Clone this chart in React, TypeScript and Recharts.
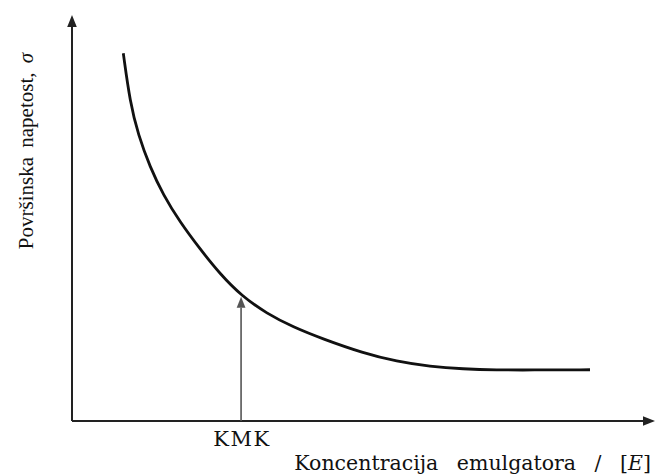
import React from 'react';
import { LineChart, Line, XAxis, YAxis, ReferenceLine } from 'recharts';

const concentration = [8.8, 9.95, 11.37, 13.38, 15.66, 18.52, 21.96, 25.39, 29.11, 33.4, 37.91, 43.05, 49.91, 55.7, 61.41, 67.07, 72.85, 78.56, 88.85];
const tension = [90.57, 78.57, 70.44, 62.56, 55.67, 49.01, 42.36, 36.21, 30.79, 26.48, 23.15, 20.2, 16.75, 14.66, 13.42, 12.81, 12.56, 12.56, 12.62];
const kmkX = 29.0;
const kmkY = 30.6;
const xLabel = 'Koncentracija emulgatora / ';
const yLabel = 'Površinska napetost, ';
const kmkLabel = 'KMK';

const data = concentration.map((c, i) => ({ c, s: tension[i] }));

const Arrow = (color: string, width: number, head: number) => (props: any) => {
  const { x1, y1, x2, y2 } = props;
  const dx = x2 - x1;
  const dy = y2 - y1;
  const len = Math.sqrt(dx * dx + dy * dy) || 1;
  const ux = dx / len;
  const uy = dy / len;
  const bx = x2 - ux * head;
  const by = y2 - uy * head;
  const px = -uy * head * 0.4;
  const py = ux * head * 0.4;
  return (
    <g>
      <line x1={x1} y1={y1} x2={bx} y2={by} stroke={color} strokeWidth={width} />
      <polygon points={`${x2},${y2} ${bx + px},${by + py} ${bx - px},${by - py}`} fill={color} />
    </g>
  );
};

const serif = "'DejaVu Serif', 'Liberation Serif', serif";
const timesLike = "'Liberation Serif', 'DejaVu Serif', serif";

export default function App() {
  return (
    <div style={{ position: 'absolute', left: 0, top: 0, width: 656, height: 475, background: '#fff' }}>
      <LineChart width={656} height={475} data={data} margin={{ top: 15, right: 1, bottom: 54, left: 72 }}>
        <XAxis type="number" dataKey="c" domain={[0, 100]} hide />
        <YAxis type="number" domain={[0, 100]} hide />
        <ReferenceLine segment={[{ x: 0, y: 0 }, { x: 0, y: 100 }]} shape={Arrow('#222', 2, 12)} ifOverflow="visible" />
        <ReferenceLine segment={[{ x: 0, y: 0 }, { x: 100, y: 0 }]} shape={Arrow('#222', 2, 12)} ifOverflow="visible" />
        <ReferenceLine segment={[{ x: kmkX, y: 0 }, { x: kmkX, y: kmkY }]} shape={Arrow('#555', 1.6, 11)} ifOverflow="visible" />
        <Line type="basis" dataKey="s" stroke="#111" strokeWidth={2.8} dot={false} isAnimationActive={false} />
        <text x={242} y={446} textAnchor="middle" fontFamily={serif} fontSize={21} letterSpacing={1.5} fill="#111">{kmkLabel}</text>
        <text x={651} y={470} textAnchor="end" fontFamily={serif} fontSize={20.5} wordSpacing={12} fill="#111">
          {xLabel}[<tspan fontStyle="italic">E</tspan>]
        </text>
        <text x={33} y={151} textAnchor="middle" transform="rotate(-90 33 151)" fontFamily={timesLike} fontSize={21} wordSpacing={4} fill="#111">
          {yLabel}<tspan fontStyle="italic">σ</tspan>
        </text>
      </LineChart>
    </div>
  );
}
